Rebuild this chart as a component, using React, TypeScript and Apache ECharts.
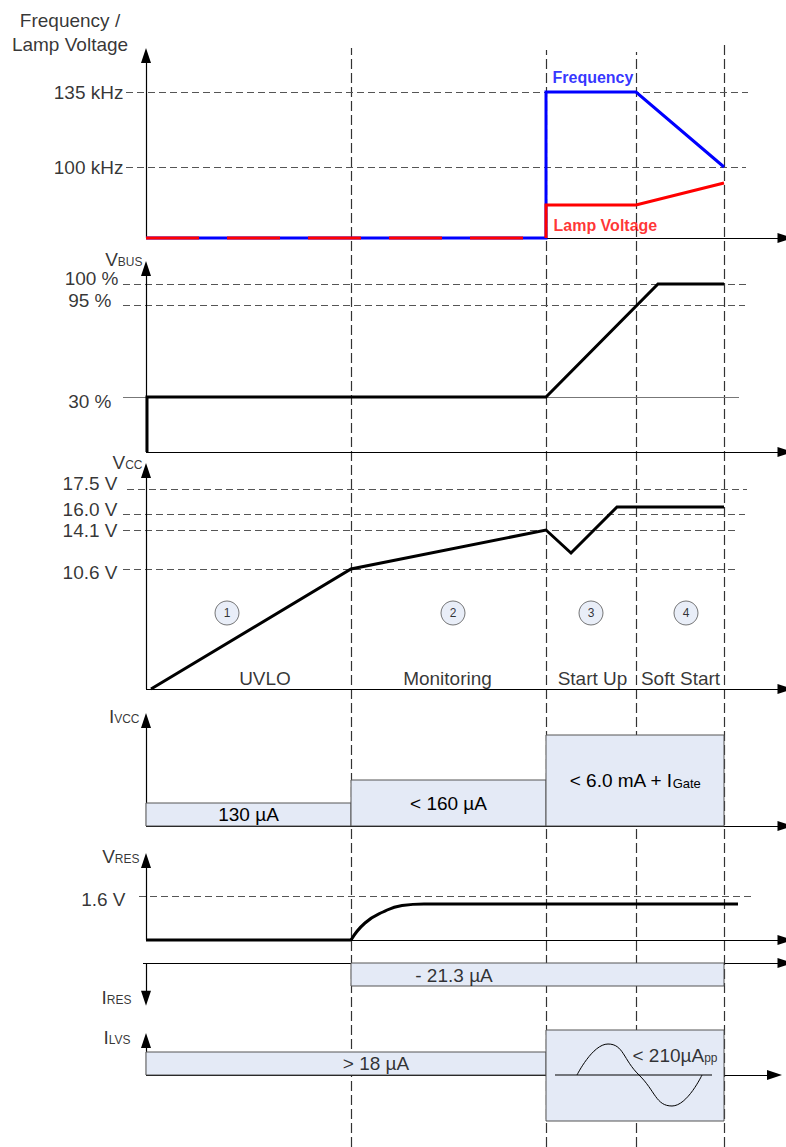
import React, { useEffect, useRef } from "react";
import * as echarts from "echarts";

// ---------------- data (time units along x, schematic level units along y) ----------------
const phaseBounds = [0, 205, 400, 490, 578];
const phaseNames = ["UVLO", "Monitoring", "Start Up", "Soft Start"];
const phaseNumbers = ["1", "2", "3", "4"];

const freqTickLabels = ["135 kHz", "100 kHz"];
const freqTickLevels = [146, 71];
const frequencyCurve = [[0, 0], [400, 0], [400, 146], [490, 146], [578, 71]];
const lampOffCurve = [[0, 0], [400, 0]];
const lampOnCurve = [[400, 0], [400, 33], [490, 33], [578, 55]];

const vbusTickLabels = ["100 %", "95 %", "30 %"];
const vbusTickLevels = [168, 147, 55];
const vbusCurve = [[1, 0], [1, 55], [400, 55], [512, 168], [578, 168]];

const vccTickLabels = ["17.5 V", "16.0 V", "14.1 V", "10.6 V"];
const vccTickLevels = [200, 175, 159, 120];
const vccCurve = [[5, 0], [205, 120], [400, 159], [425, 136], [471, 182], [578, 182]];

const ivccLabels = [["130 µA", ""], ["< 160 µA", ""], ["< 6.0 mA + I", "Gate"]];
const ivccLevels = [23, 46, 91];

const vresTickLabels = ["1.6 V"];
const vresTickLevels = [44];
const vresRise = [[205, 0], [219, 17], [237, 28], [256, 34.5], [278, 36]];
const vresFlat = [[0, 0], [205, 0]];
const vresHold = [[278, 36], [592, 36]];

const iresLabel = "- 21.3 µA";
const iresLevel = 23;

const ilvsLabels = [["> 18 µA", ""], ["< 210µA", "pp"]];
const ilvsLowLevel = 23;
const ilvsSwing = [-46, 45];
const ilvsSineBase = [[409, 0], [566, 0]];
const ilvsSine = [[431, 0], [462, 31], [493, 0], [526, -31], [556, 0]];

const axisNames = [
  ["V", "BUS"],
  ["V", "CC"],
  ["I", "VCC"],
  ["V", "RES"],
  ["I", "RES"],
  ["I", "LVS"],
];

// ---------------- layout ----------------
const FONT = "'Liberation Sans', Arial, Helvetica, sans-serif";
const FS = 19;
const BOX = "#e4eaf6";
const BOX_EDGE = "#555";
const REF = { color: "#555", width: 1, type: [7, 4] };
const VLINE = { color: "#333", width: 1.2, type: [10, 4] };
const AX = { color: "#000", width: 1.2, type: "solid" };
const HALF_ARROW = 7.5;

// grids: pixel top, baseline, bottom
const panels = [
  { top: 0, base: 238, bottom: 250 },
  { top: 245, base: 452, bottom: 458 },
  { top: 452, base: 689, bottom: 695 },
  { top: 700, base: 826, bottom: 832 },
  { top: 845, base: 940, bottom: 946 },
  { top: 950, base: 963, bottom: 1012, inverse: true },
  { top: 1025, base: 1075, bottom: 1130 },
  { top: 0, base: 1147, bottom: 1147 },
];
const XMIN = -146;
const XMAX = 640;
const X_ARROW_END = 639;

const RICH: any = {
  m: { fontSize: FS, fontFamily: FONT, color: "#000", lineHeight: 18 },
  s: { fontSize: 12, fontFamily: FONT, color: "#000", lineHeight: 7, verticalAlign: "bottom" },
  g: { fontSize: 13, fontFamily: FONT, color: "#000", lineHeight: 7, verticalAlign: "bottom" },
};
const sub = (a: string, b: string, key = "s") => (b ? `{m|${a}}{${key}|${b}}` : `{m|${a}}`);

function T(x: number, y: number, formatter: string, position = "left", extra: any = {}) {
  return { value: [x, y], label: { show: true, position, distance: 0, formatter, ...extra } };
}

function textSeries(gi: number, items: any[]) {
  return {
    type: "scatter",
    xAxisIndex: gi,
    yAxisIndex: gi,
    symbolSize: 1,
    itemStyle: { color: "rgba(0,0,0,0)" },
    silent: true,
    z: 6,
    label: { show: true, color: "#000", fontFamily: FONT, fontSize: FS, rich: RICH },
    emphasis: { disabled: true },
    data: items,
  };
}

function lineSeries(gi: number, data: number[][], color: string, width: number, extra: any = {}) {
  const { lineStyle, ...rest } = extra;
  return {
    type: "line",
    xAxisIndex: gi,
    yAxisIndex: gi,
    data,
    symbol: "none",
    showSymbol: false,
    silent: true,
    z: 4,
    lineStyle: { color, width, cap: "butt", join: "miter", ...(lineStyle || {}) },
    emphasis: { disabled: true },
    ...rest,
  };
}

function markLines(gi: number, lines: number[][][], style: any, z: number) {
  return {
    type: "line",
    xAxisIndex: gi,
    yAxisIndex: gi,
    data: [],
    silent: true,
    markLine: {
      silent: true,
      z,
      symbol: ["none", "none"],
      label: { show: false },
      emphasis: { disabled: true },
      lineStyle: style,
      data: lines.map(([a, b]) => [{ coord: a }, { coord: b }]),
    },
  };
}

function arrows(gi: number, lines: number[][][]) {
  return {
    type: "line",
    xAxisIndex: gi,
    yAxisIndex: gi,
    data: [],
    silent: true,
    markLine: {
      silent: true,
      z: 1,
      label: { show: false },
      emphasis: { disabled: true },
      lineStyle: AX,
      data: lines.map(([a, b]) => [
        { coord: a, symbol: "none" },
        { coord: b, symbol: "triangle", symbolSize: [10, 15] },
      ]),
    },
  };
}

function boxes(gi: number, spans: number[][], names: string[]) {
  return {
    type: "line",
    xAxisIndex: gi,
    yAxisIndex: gi,
    data: [],
    silent: true,
    markArea: {
      silent: true,
      z: 2,
      itemStyle: { color: BOX, borderColor: BOX_EDGE, borderWidth: 1 },
      label: { show: true, position: "inside", color: "#000", fontFamily: FONT, fontSize: FS, rich: RICH },
      emphasis: { disabled: true },
      data: spans.map((s, i) => [{ name: names[i] || "", coord: [s[0], s[2]] }, { coord: [s[1], s[3]] }]),
    },
  };
}

function buildOption() {
  const pb = phaseBounds;
  const grid = panels.map((p) => ({ left: 0, width: XMAX - XMIN, top: p.top, height: p.bottom - p.top }));
  const xAxis = panels.map((_, i) => ({ type: "value", gridIndex: i, min: XMIN, max: XMAX, show: false }));
  const yAxis = panels.map((p, i) =>
    p.inverse
      ? { type: "value", gridIndex: i, min: -(p.base - p.top), max: p.bottom - p.base, inverse: true, show: false }
      : { type: "value", gridIndex: i, min: -(p.bottom - p.base), max: p.base - p.top, show: false }
  );
  const tip = (gi: number, yPix: number) => panels[gi].base - yPix - HALF_ARROW;
  const xEnd = X_ARROW_END;

  const series: any[] = [];

  // phase boundaries spanning all panels
  const vTops = [1099, 1097, 1095, 1102];
  series.push(markLines(7, pb.slice(1).map((t, i) => [[t, 0], [t, vTops[i]]]), VLINE, 1));

  // ---- panel 0: frequency / lamp voltage
  const p0Ref = [[-20, 602], [-20, 600]];
  series.push(markLines(0, freqTickLevels.map((v, i) => [[p0Ref[i][0], v], [p0Ref[i][1], v]]), REF, 1));
  series.push(arrows(0, [[[0, 0], [0, tip(0, 48)]], [[0, 0], [xEnd, 0]]]));
  series.push(lineSeries(0, frequencyCurve, "#0000ff", 3));
  series.push(lineSeries(0, lampOffCurve, "#ff0000", 3, { lineStyle: { type: [53, 28] } }));
  series.push(lineSeries(0, lampOnCurve, "#ff0000", 3));
  series.push(
    textSeries(0, [
      T(-76, 206, "Frequency /\nLamp Voltage", "inside", { lineHeight: 24, align: "center" }),
      T(-22, 146, sub(freqTickLabels[0], "")),
      T(-22, 71, sub(freqTickLabels[1], "")),
      T(406, 161, "Frequency", "right", { fontWeight: "bold", fontSize: 16, color: "#0000ff" }),
      T(407, 13, "Lamp Voltage", "right", { fontWeight: "bold", fontSize: 16, color: "#ff0000" }),
    ])
  );

  // ---- panel 1: VBUS
  const p1Ref = [[-23, 602], [-23, 599]];
  series.push(markLines(1, vbusTickLevels.slice(0, 2).map((v, i) => [[p1Ref[i][0], v], [p1Ref[i][1], v]]), REF, 1));
  series.push(markLines(1, [[[-23, vbusTickLevels[2]], [593, vbusTickLevels[2]]]], { color: "#777", width: 1, type: "solid" }, 1));
  series.push(arrows(1, [[[0, 0], [0, tip(1, 261)]], [[0, 0], [xEnd, 0]]]));
  series.push(lineSeries(1, vbusCurve, "#000", 3));
  series.push(
    textSeries(1, [
      T(-3, 193, sub(axisNames[0][0], axisNames[0][1])),
      T(-27, 174, sub(vbusTickLabels[0], "")),
      T(-34, 152, sub(vbusTickLabels[1], "")),
      T(-34, 51, sub(vbusTickLabels[2], "")),
    ])
  );

  // ---- panel 2: VCC
  const p2Ref = [[-19, 601], [-23, 599], [-23, 593], [-23, 593]];
  const p2LabelY = [206, 180, 159, 117];
  series.push(markLines(2, vccTickLevels.map((v, i) => [[p2Ref[i][0], v], [p2Ref[i][1], v]]), REF, 1));
  series.push(arrows(2, [[[0, 0], [0, tip(2, 463)]], [[0, 0], [xEnd, 0]]]));
  series.push(lineSeries(2, vccCurve, "#000", 3));
  const circleX = [81, 307, 445, 540];
  const nameX = [119, 301.5, 446.5, 534.5];
  series.push({
    type: "scatter",
    xAxisIndex: 2,
    yAxisIndex: 2,
    symbol: "circle",
    symbolSize: 24,
    silent: true,
    z: 5,
    itemStyle: { color: BOX, borderColor: BOX_EDGE, borderWidth: 1 },
    label: { show: true, position: "inside", color: "#000", fontFamily: FONT, fontSize: 12, formatter: "{b}" },
    emphasis: { disabled: true },
    data: phaseNumbers.map((n, i) => ({ name: n, value: [circleX[i], 76] })),
  });
  series.push(
    textSeries(2, [
      T(-3, 227, sub(axisNames[1][0], axisNames[1][1])),
      ...vccTickLabels.map((l, i) => T(-28, p2LabelY[i], sub(l, ""))),
      ...phaseNames.map((n, i) => T(nameX[i], 11, sub(n, ""), "inside")),
    ])
  );

  // ---- panel 3: IVCC
  const ivccSpans = [[pb[0], pb[1]], [pb[1], pb[2]], [pb[2], pb[4]]];
  series.push(arrows(3, [[[0, 0], [0, tip(3, 713)]], [[0, 0], [xEnd, 0]]]));
  series.push(
    boxes(
      3,
      ivccSpans.map((s, i) => [s[0], s[1], 0, ivccLevels[i]]),
      ivccLabels.map(([a, b]) => sub(a, b, "g"))
    )
  );
  series.push(textSeries(3, [T(-6, 110, sub(axisNames[2][0], axisNames[2][1]))]));

  // ---- panel 4: VRES
  series.push(markLines(4, [[[-7, vresTickLevels[0]], [609, vresTickLevels[0]]]], REF, 1));
  series.push(arrows(4, [[[0, 0], [0, tip(4, 853)]], [[0, 0], [xEnd, 0]]]));
  series.push(lineSeries(4, vresFlat, "#000", 3));
  series.push(lineSeries(4, vresRise, "#000", 3, { smooth: 0.5, lineStyle: { join: "round" } }));
  series.push(lineSeries(4, vresHold, "#000", 3));
  series.push(
    textSeries(4, [
      T(-6, 84, sub(axisNames[3][0], axisNames[3][1])),
      T(-20, 41, sub(vresTickLabels[0], "")),
    ])
  );

  // ---- panel 5: IRES (downward)
  series.push(arrows(5, [[[0, 0], [0, 1005.7 - 963 - HALF_ARROW]], [[-3, 0], [xEnd, 0]]]));
  series.push(boxes(5, [[pb[1], pb[4], 0, iresLevel]], [""]));
  series.push(
    textSeries(5, [
      T(-14, 34, sub(axisNames[4][0], axisNames[4][1])),
      T(308, 12, sub(iresLabel, ""), "inside"),
    ])
  );

  // ---- panel 6: ILVS
  series.push(arrows(6, [[[0, 0], [0, tip(6, 1033)]], [[0, 0], [628.5, 0]]]));
  series.push(
    boxes(6, [[pb[0], pb[2], 0, ilvsLowLevel], [pb[2], pb[4], ilvsSwing[0], ilvsSwing[1]]], ["", ""])
  );
  series.push(lineSeries(6, ilvsSineBase, "#000", 1));
  series.push(lineSeries(6, ilvsSine, "#000", 1, { smooth: 0.5 }));
  series.push(
    textSeries(6, [
      T(-15, 38, sub(axisNames[5][0], axisNames[5][1])),
      T(230, 12, sub(ilvsLabels[0][0], ilvsLabels[0][1]), "inside"),
      T(486, 20, sub(ilvsLabels[1][0], ilvsLabels[1][1]), "right"),
    ])
  );

  return {
    animation: false,
    backgroundColor: "#fff",
    textStyle: { fontFamily: FONT },
    tooltip: { show: false },
    grid,
    xAxis,
    yAxis,
    series,
  };
}

export default function App() {
  const ref = useRef<HTMLDivElement>(null);
  useEffect(() => {
    if (!ref.current) return;
    const chart = echarts.init(ref.current, undefined, { renderer: "svg" });
    chart.setOption(buildOption() as any);
    return () => chart.dispose();
  }, []);
  return (
    <div
      ref={ref}
      style={{ position: "absolute", left: 0, top: 0, width: 786, height: 1147, background: "#fff" }}
    />
  );
}
